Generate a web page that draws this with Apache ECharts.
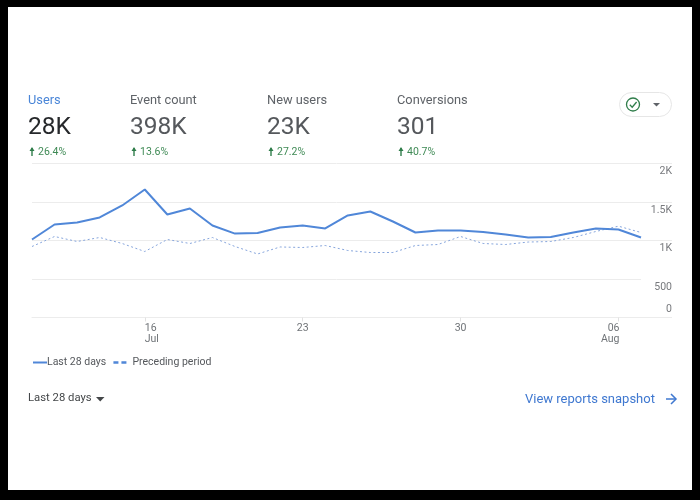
<!doctype html>
<html>
<head>
<meta charset="utf-8">
<title>Users overview</title>
<script src="https://cdn.jsdelivr.net/npm/echarts@6/dist/echarts.min.js"></script>
<style>
  html, body { margin: 0; padding: 0; background: #000; }
  #card { position: absolute; left: 8px; top: 7px; width: 684px; height: 483px; background: #fff; }
  #container { position: absolute; left: 0; top: 0; width: 700px; height: 500px; }
</style>
</head>
<body>
<div id="card"></div>
<div id="container"></div>
<script>
// chart data
var days = ['11','12','13','14','15','16','17','18','19','20','21','22','23','24','25','26','27','28','29','30','31','01','02','03','04','05','06','07'];
var last28 = [1013,1208,1234,1299,1455,1662,1338,1416,1195,1090,1097,1169,1195,1156,1325,1377,1247,1104,1130,1130,1110,1078,1039,1045,1104,1156,1143,1039];
var preceding = [922,1052,987,1039,961,857,1013,961,1039,922,825,916,909,935,870,844,844,935,948,1052,961,948,980,987,1039,1117,1186,1104];
var shownDays = [5, 12, 19, 26];
var yTicks = { 0: '0', 500: '500', 1000: '1K', 1500: '1.5K', 2000: '2K' };

// metric cards across the top
var metricNames = ['Users', 'Event count', 'New users', 'Conversions'];
var metricValues = ['28K', '398K', '23K', '301'];
var metricChanges = ['26.4%', '13.6%', '27.2%', '40.7%'];
var metricX = [28, 130, 267, 397];

var FONT = 'Roboto, "Noto Sans", sans-serif';
var BLUE = '#5087d8';
var GRID = '#ececec';

var graphics = [];

function addText(x, y, text, size, color, extra) {
  var style = { x: x, y: y, text: text, fontSize: size, fontFamily: FONT, fill: color, textVerticalAlign: 'middle' };
  for (var k in extra) style[k] = extra[k];
  graphics.push({ type: 'text', silent: true, style: style });
}
function addLine(x1, y1, x2, y2, color, width) {
  graphics.push({ type: 'line', silent: true, shape: { x1: x1, y1: y1, x2: x2, y2: y2 }, style: { stroke: color, lineWidth: width || 1, fill: null } });
}

for (var i = 0; i < metricNames.length; i++) {
  var x = metricX[i];
  addText(x, 101, metricNames[i], 12.8, i === 0 ? '#4a86d8' : '#5f6368');
  addText(x, 128, metricValues[i], 24.5, i === 0 ? '#26282b' : '#55585c');
  addText(x + 10, 152, metricChanges[i], 10.5, '#3f8a55', { letterSpacing: 0.5 });
  // little up arrow
  addLine(x + 4, 148, x + 4, 156, '#2f7d4a', 1.4);
  graphics.push({ type: 'polygon', silent: true, shape: { points: [[x + 1.5, 151], [x + 4, 147], [x + 6.5, 151]] }, style: { fill: '#2f7d4a' } });
}

// grid lines run on past the plot into the label column, except the 500 one
addLine(641, 163.5, 672, 163.5, GRID);
addLine(641, 202.5, 672, 202.5, GRID);
addLine(641, 240.5, 672, 240.5, GRID);
addLine(641, 317.5, 672, 317.5, GRID);

// status pill
graphics.push({ type: 'rect', silent: true, shape: { x: 619.5, y: 92.5, width: 52, height: 24, r: 12 }, style: { fill: '#fff', stroke: '#e6e6e6', lineWidth: 1 } });
graphics.push({ type: 'circle', silent: true, shape: { cx: 633, cy: 104.5, r: 6.5 }, style: { fill: '#fff', stroke: '#2f7d4a', lineWidth: 1.3 } });
graphics.push({ type: 'polyline', silent: true, shape: { points: [[629.8, 104.8], [632.2, 107.2], [636.6, 102]] }, style: { stroke: '#2f7d4a', lineWidth: 1.3, fill: null } });
graphics.push({ type: 'polygon', silent: true, shape: { points: [[653, 103], [660, 103], [656.5, 106.5]] }, style: { fill: '#5f6368' } });

// footer
addText(28, 398.5, 'Last 28 days', 11.3, '#444749');
graphics.push({ type: 'polygon', silent: true, shape: { points: [[96, 397], [104.5, 397], [100.2, 401.5]] }, style: { fill: '#444749' } });
addText(525, 400, 'View reports snapshot', 13, '#3f78d0', { letterSpacing: 0.3 });
graphics.push({ type: 'polyline', silent: true, shape: { points: [[666, 399], [675.5, 399]] }, style: { stroke: '#3f78d0', lineWidth: 1.5, fill: null } });
graphics.push({ type: 'polyline', silent: true, shape: { points: [[671, 394], [676, 399], [671, 404]] }, style: { stroke: '#3f78d0', lineWidth: 1.5, fill: null } });

var option = {
  animation: false,
  textStyle: { fontFamily: FONT },
  grid: { left: 32, right: 59, top: 163.5, height: 154, containLabel: false },
  legend: {
    left: 27,
    top: 352,
    itemWidth: 14,
    itemHeight: 10,
    itemGap: 6,
    itemStyle: { opacity: 0 },
    textStyle: { fontSize: 10.5, color: '#55585c', fontFamily: FONT },
    data: [
      { name: 'Last 28 days', lineStyle: { width: 2, color: BLUE }, textStyle: { padding: [0, 0, 0, -5] } },
      { name: 'Preceding period', lineStyle: { width: 2.5, color: BLUE, type: [5, 3] }, textStyle: { padding: [0, 0, 0, 0] } }
    ]
  },
  xAxis: {
    type: 'category',
    boundaryGap: false,
    data: days,
    axisLine: { lineStyle: { color: GRID } },
    axisTick: { length: 4, lineStyle: { color: '#e2e2e2' }, interval: function (idx) { return shownDays.indexOf(idx) >= 0; } },
    axisLabel: {
      interval: function (idx) { return shownDays.indexOf(idx) >= 0; },
      margin: 5,
      color: '#6f7377',
      fontSize: 10.5,
      lineHeight: 11,
      formatter: function (value) {
        if (value === '16') return '{l|16}\n{l|Jul}';
        if (value === '06') return '{r|06}\n{r|Aug}';
        return value;
      },
      rich: {
        l: { fontSize: 10.5, color: '#6f7377', lineHeight: 11, padding: [0, 0, 0, 20], width: 20, align: 'left' },
        r: { fontSize: 10.5, color: '#6f7377', lineHeight: 11, padding: [0, 18, 0, 0], width: 20, align: 'right' }
      }
    }
  },
  yAxis: {
    type: 'value',
    position: 'right',
    min: 0,
    max: 2000,
    interval: 500,
    axisLine: { show: false },
    axisTick: { show: false },
    splitLine: { lineStyle: { color: GRID, width: 1 } },
    axisLabel: {
      margin: 31,
      align: 'right',
      formatter: function (value) {
        return (value === 0 ? '{up|' : '{down|') + yTicks[value] + '}';
      },
      rich: {
        up: { fontSize: 10.5, color: '#77797d', padding: [0, 0, 16, 0] },
        down: { fontSize: 10.5, color: '#77797d', padding: [16, 0, 0, 0] }
      }
    }
  },
  series: [
    {
      name: 'Preceding period',
      type: 'line',
      data: preceding,
      symbol: 'none',
      z: 2,
      lineStyle: { width: 1, color: '#86a5dc', type: [2, 2.5] },
      itemStyle: { color: BLUE }
    },
    {
      name: 'Last 28 days',
      type: 'line',
      data: last28,
      symbol: 'none',
      z: 3,
      lineStyle: { width: 2, color: BLUE },
      itemStyle: { color: BLUE }
    }
  ],
  graphic: graphics
};

var myChart = echarts.init(document.getElementById('container'));
myChart.setOption(option);
</script>
</body>
</html>
